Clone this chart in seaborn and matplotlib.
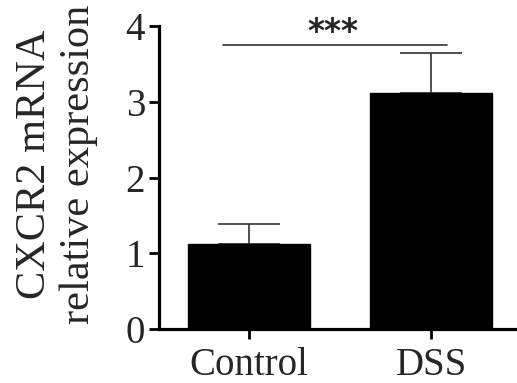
import matplotlib
matplotlib.use('Agg')
import matplotlib.pyplot as plt
import numpy as np
import pandas as pd
import seaborn as sns

# data
groups = ['Control', 'DSS']
means = [1.12, 3.11]
sems = [0.27, 0.53]
yticks = [0, 1, 2, 3, 4]

sns.set_style('ticks')
plt.rcParams['font.family'] = ['Liberation Serif', 'DejaVu Serif']

df = pd.DataFrame({'group': groups, 'value': means})

fig = plt.figure(figsize=(5.17, 3.83), dpi=100)
ax = fig.add_axes([0.3075, 0.141, 0.6925, 0.791])

sns.barplot(data=df, x='group', y='value', color='black', saturation=1,
            width=0.67, errorbar=None, ax=ax, zorder=3)
for p in ax.patches:
    p.set_edgecolor('black')

xpos = np.arange(len(groups))
ax.errorbar(xpos, means, yerr=[np.zeros(len(sems)), sems], fmt='none',
            ecolor='#333333', elinewidth=1.2, capsize=22, capthick=1.2, zorder=2)

# significance bar
ax.plot([-0.143, 1.088], [3.75, 3.75], color='#333333', lw=1.2, clip_on=False)
ax.text(0.46, 3.70, '***', ha='center', va='bottom', fontsize=23.5,
        family='DejaVu Sans', weight='bold', clip_on=False)

ax.set_xlim(-0.495, 1.47)
ax.set_ylim(0, 4)
ax.set_yticks(yticks)
ax.set_xlabel('')
ax.set_ylabel('')
sns.despine(ax=ax)
for s in ['left', 'bottom']:
    ax.spines[s].set_linewidth(2.3)
    ax.spines[s].set_color('black')
ax.tick_params(axis='both', width=2, length=7, color='black', labelsize=28)
ax.tick_params(axis='y', pad=3)
ax.tick_params(axis='x', pad=6)

fig.text(0.11, 0.572, 'CXCR2 mRNA\nrelative expression', rotation=90,
         ha='center', va='center', multialignment='center', fontsize=30.5,
         linespacing=1.2)

fig.savefig('out.png', dpi=100)
